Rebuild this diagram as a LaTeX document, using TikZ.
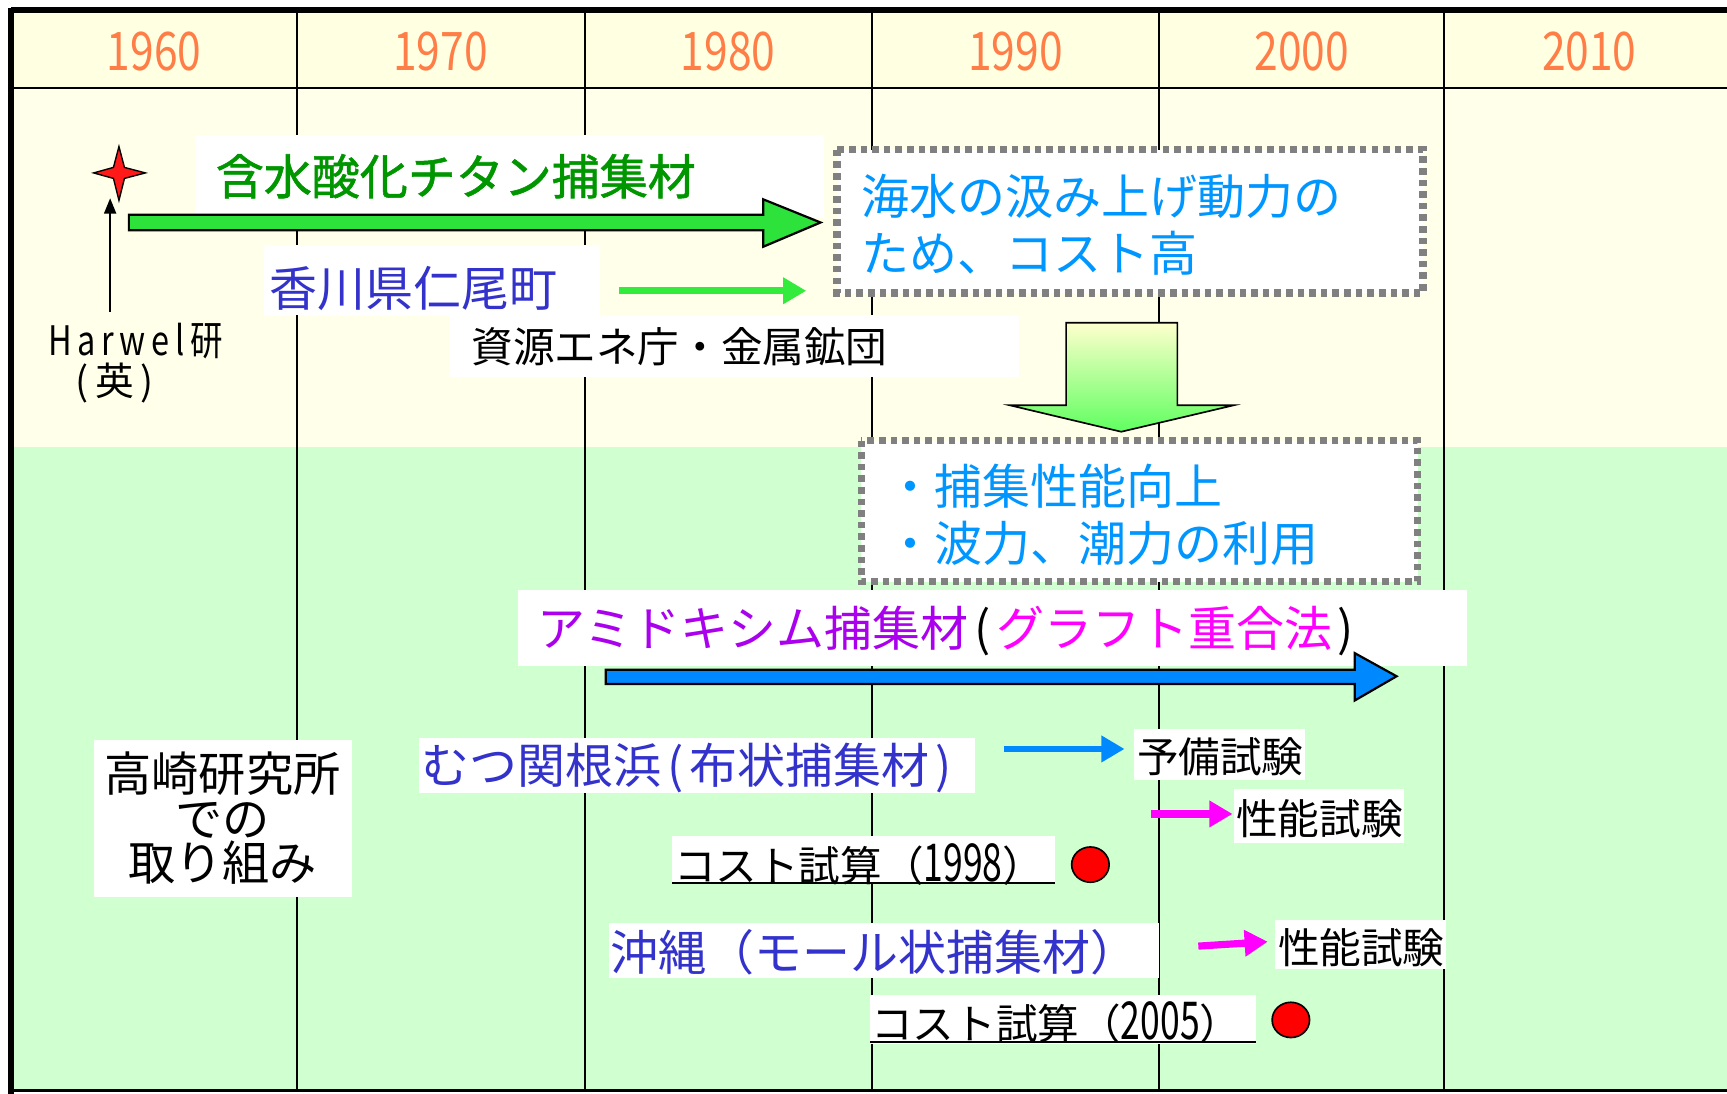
\documentclass[tikz,border=0pt]{standalone}
\usepackage{fontspec}
\setmainfont{Noto Sans CJK JP}
\newfontfamily\nar[FakeStretch=0.8]{Noto Sans CJK JP}
\newfontfamily\narB[FakeStretch=0.68]{Noto Sans CJK JP}
\newfontfamily\semib[FakeBold=1.2]{Noto Sans CJK JP}
\usetikzlibrary{arrows.meta}
\definecolor{bghdr}{RGB}{255,255,226}
\definecolor{bgtop}{RGB}{255,255,234}
\definecolor{bggrn}{RGB}{208,255,208}
\definecolor{yearc}{RGB}{255,125,70}
\definecolor{tgreen}{RGB}{0,150,0}
\definecolor{tblue}{RGB}{51,51,204}
\definecolor{tsky}{RGB}{0,150,255}
\definecolor{tpurple}{RGB}{170,0,238}
\definecolor{tmag}{RGB}{255,0,255}
\definecolor{agreen}{RGB}{46,226,60}
\definecolor{ablue}{RGB}{0,136,255}
\definecolor{lgreen}{RGB}{50,235,60}
\definecolor{dotgray}{RGB}{128,128,128}
\newcommand\fA{\fontsize{24.8}{29.5}\selectfont}
\newcommand\fB{\fontsize{21.5}{26}\selectfont}
\newcommand\lp{\hspace{0.12em}(\hspace{0.12em}}
\newcommand\rp{\hspace{0.12em})}
\newcommand\yr[1]{{\narB\fontsize{27}{28}\selectfont #1}}
\newcommand\ks{\kern0.14em}
\begin{document}
\begin{tikzpicture}[x=0.02cm,y=-0.02cm,
  txt/.style={inner sep=0pt,outer sep=0pt},
  wbox/.style={fill=white},
  dotbox/.style={draw=dotgray,fill=white,line width=0.13cm,dash pattern=on 3.4pt off 2.6pt},
  blockarrow/.style={draw=black,line width=0.04cm,line join=miter},
  thinarrow/.style={line width=0.13cm,-{Triangle[length=0.42cm,width=0.46cm]}},
  year/.style={txt,text=yearc,font=\nar\fontsize{27.5}{30}\selectfont}]
\useasboundingbox (0,0) rectangle (1568,993);
% backgrounds
\fill[white] (0,0) rectangle (1568,993);
\fill[bghdr] (10,9) rectangle (1568,80);
\fill[bgtop] (10,80) rectangle (1568,406);
\fill[bggrn] (10,406) rectangle (1568,990);
% grid
\foreach \x in {270,531,792,1052,1311}
  \draw[line width=0.035cm] (\x,9) -- (\x,990);
\draw[line width=0.05cm] (10,80) -- (1568,80);
\draw[line width=0.1cm] (10,9) -- (1568,9);
\draw[line width=0.1cm] (10,7) -- (10,993);
\draw[line width=0.04cm] (10,990) -- (1568,990);
% years
\node[year] (y60) at (140,47) {1960};
\node[year] (y70) at (400,47) {1970};
\node[year] (y80) at (661,47) {1980};
\node[year] (y90) at (922,47) {1990};
\node[year] (y00) at (1182,47) {2000};
\node[year] (y10) at (1443,47) {2010};
% star and Harwell
\draw[fill=red!90!white,line width=0.025cm,line join=miter]
  (108,133) -- (113,152) -- (132,157) -- (113,162) -- (108,182) -- (103,162) -- (85,157) -- (103,152) -- cycle;
\node[txt,font=\nar\fontsize{21}{23}\selectfont] (harw) at (123,310) {H\ks a\ks r\ks w\ks e\ks l\ks 研};
\node[txt,font=\fontsize{20}{22}\selectfont] (eng) at (104,348) {(\,英\,)};
\coordinate (harwtop) at (100,283);
\coordinate (startip) at (100,180);
\draw[line width=0.03cm,-{Triangle[length=0.28cm,width=0.22cm]}] (harwtop) -- (startip);
% titanium label
\fill[wbox] (178,123) rectangle (748,198);
\node[txt,anchor=west,text=tgreen,font=\semib\fA] (ti) at (196,160) {含水酸化チタン捕集材};
\draw[blockarrow,fill=agreen] (117,195) -- (693,195) -- (693,181) -- (745,202) -- (693,224) -- (693,209) -- (117,209) -- cycle;
% Kagawa
\fill[wbox] (240,222) rectangle (545,286);
\node[txt,anchor=west,text=tblue,font=\fA] (kag) at (245,262) {香川県仁尾町};
\coordinate (kagA) at (562,264);
\coordinate (kagB) at (732,264);
\draw[thinarrow,draw=lgreen] (kagA) -- (kagB);
\fill[wbox] (408,286) rectangle (925,342);
\node[txt,anchor=west,font=\fB] (shigen) at (428,315) {資源エネ庁・金属鉱団};
% dotted box 1
\draw[dotbox] (760,136) rectangle (1292,266);
\node[txt,anchor=west,text=tsky,font=\fA] (sea1) at (782,178) {海水の汲み上げ動力の};
\node[txt,anchor=west,text=tsky,font=\fA] (sea2) at (782,230) {ため、コスト高};
% down arrow
\shade[top color={rgb,255:red,255;green,255;blue,205},bottom color={rgb,255:red,95;green,255;blue,95}]
  (968,293) -- (1069,293) -- (1069,368) -- (1120,368) -- (1018,392) -- (917,368) -- (968,368) -- cycle;
\draw[line width=0.03cm,line join=miter]
  (968,293) -- (1069,293) -- (1069,368) -- (1120,368) -- (1018,392) -- (917,368) -- (968,368) -- cycle;
% dotted box 2
\draw[dotbox] (782,400) rectangle (1287,528);
\node[txt,anchor=west,text=tsky,font=\fA] (imp1) at (805,441) {・捕集性能向上};
\node[txt,anchor=west,text=tsky,font=\fA] (imp2) at (805,493) {・波力、潮力の利用};
% amidoxime
\fill[wbox] (470,536) rectangle (1332,605);
\node[txt,anchor=west,font=\fA] (ami) at (488,573) {\textcolor{tpurple}{アミドキシム捕集材}\lp\textcolor{tmag}{グラフト重合法}\rp};
\draw[blockarrow,fill=ablue] (550,608) -- (1230,608) -- (1230,593) -- (1268,614) -- (1230,636) -- (1230,621) -- (550,621) -- cycle;
% Mutsu
\fill[wbox] (380,670) rectangle (885,720);
\node[txt,anchor=west,text=tblue,font=\fA] (mutsu) at (383,697) {むつ関根浜\lp 布状捕集材\rp};
\coordinate (mA) at (912,680);
\coordinate (mB) at (1021,680);
\draw[thinarrow,draw=ablue,line width=0.12cm] (mA) -- (mB);
\fill[wbox] (1030,662) rectangle (1185,708);
\node[txt,font=\fB] (yobi) at (1108,687) {予備試験};
\coordinate (pA) at (1045,739);
\coordinate (pB) at (1119,739);
\draw[thinarrow,draw=tmag] (pA) -- (pB);
\fill[wbox] (1120,716) rectangle (1275,765);
\node[txt,font=\fB] (sei1) at (1198,743) {性能試験};
\fill[wbox] (610,759) rectangle (958,802);
\node[txt,anchor=west,font=\fB] (cost1) at (612,785) {コスト試算（\yr{1998}）};
\draw[line width=0.04cm] (610,802) -- (958,802);
\draw[fill=red,line width=0.03cm] (990,785) ellipse [x radius=17, y radius=16];
% Okinawa
\fill[wbox] (553,838) rectangle (1052,888);
\node[txt,anchor=west,text=tblue,font=\fA] (oki) at (554,865) {沖縄（モール状捕集材）};
\coordinate (oA) at (1088,859);
\coordinate (oB) at (1151,855);
\draw[thinarrow,draw=tmag] (oA) -- (oB);
\fill[wbox] (1158,835) rectangle (1313,880);
\node[txt,font=\fB] (sei2) at (1236,860) {性能試験};
\fill[wbox] (790,903) rectangle (1140,948);
\node[txt,anchor=west,font=\fB] (cost2) at (791,928) {コスト試算（\yr{2005}）};
\draw[line width=0.04cm] (790,946) -- (1140,946);
\draw[fill=red,line width=0.03cm] (1172,926) ellipse [x radius=17, y radius=16];
% Takasaki
\fill[wbox] (85,672) rectangle (320,814);
\node[txt,align=center,font=\fontsize{24.4}{23}\selectfont] (taka) at (202,743) {高崎研究所\\での\\取り組み};
\end{tikzpicture}
\end{document}
